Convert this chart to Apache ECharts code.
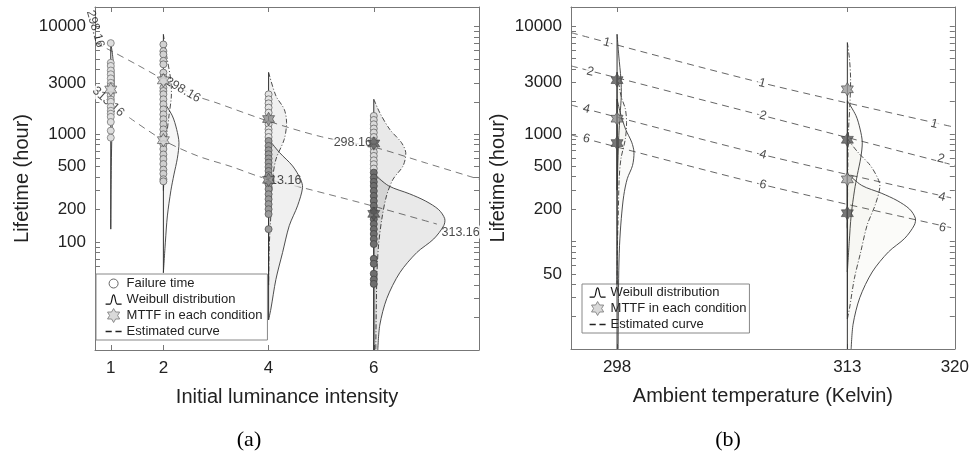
<!DOCTYPE html>
<html><head><meta charset="utf-8">
<script src="https://cdn.jsdelivr.net/npm/echarts@6/dist/echarts.min.js"></script>
<style>html,body{margin:0;padding:0;background:#fff}#c{width:972px;height:459px}</style>
</head><body><div id="c"></div>
<script>
// ---------------- DATA ----------------
const intensityLevels = [1, 2, 4, 6];
const tempLevels = [298, 313];
const xTicksA = [1, 2, 4, 6];
const xTicksB = [298, 313, 320];
const yTickLabelsA = [100, 200, 500, 1000, 3000, 10000];
const yTickLabelsB = [50, 200, 500, 1000, 3000, 10000];
const yMinorTicks = [10,20,30,40,50,60,70,80,90,100,200,300,400,500,600,700,800,900,1000,2000,3000,4000,5000,6000,7000,8000,9000,10000];

// failure times (hours)
const fail_I1_T313 = [7000, 4600, 4300, 3900, 3600, 3300, 3000, 2800, 2600, 2300, 2100, 2000, 1800, 1650, 1550, 1450, 1300, 1080, 930];
const fail_I2_T298 = [6800, 5900, 5500, 4800, 4450, 3730, 3350, 3100, 2700, 2520, 2350, 2110, 1900, 1700, 1530];
const fail_I2_T313 = [1380, 1240, 1110, 1000, 900, 810, 730, 650, 590, 530, 470, 430, 383, 366];
const fail_I4_T298 = [2345, 2110, 1936, 1766, 1588, 1238, 1113, 1038, 944];
const fail_I4_T313 = [867, 780, 711, 653, 596, 547, 498, 457, 417, 344, 310, 278, 250, 225, 202, 182, 132];
const fail_I6_T298 = [1479, 1357, 1238, 1130, 1038, 944, 867, 753, 686, 630, 574, 528, 481];
const fail_I6_T313 = [441, 397, 362, 332, 298, 268, 241, 217, 195, 163, 147, 132, 119, 107, 96, 70, 63, 51, 45, 41];

// MTTF
const mttfI_T298 = [2, 4, 6];
const mttf_T298 = [3160, 1385, 822];
const mttfI_T313 = [1, 2, 4, 6];
const mttf_T313 = [2600, 882, 378, 183];

// Weibull density profiles: lifetime values and relative density
const weibI1T313_v = [7070, 5000, 3230, 1830, 1110, 500, 132];
const weibI1T313_d = [0, 2.2, 3.4, 2.6, 1.3, 0.5, 0];
const weibI2T298_v = [8440, 5310, 3230, 2265, 1480, 964, 547, 300];
const weibI2T298_d = [0, 3.3, 7.3, 8, 5.6, 3.3, 1.6, 0];
const weibI2T313_v = [2030, 1480, 1110, 837, 600, 420, 300, 175, 100, 52];
const weibI2T313_d = [0, 9, 13.3, 15.6, 14, 10.5, 7.5, 4, 2, 0];
const weibI4T298_v = [3750, 2265, 1702, 1283, 900, 588, 383, 188, 92, 40];
const weibI4T298_d = [0, 7.4, 15.7, 18, 15.7, 7.4, 4, 2.4, 0.7, 0];
const weibI4T313_v = [900, 676, 509, 383, 320, 217, 142, 80, 45, 24, 19];
const weibI4T313_d = [0, 11, 24, 32, 34, 29, 20.7, 14, 7.3, 2.3, 0];
const weibI6T298_v = [2110, 1584, 1110, 837, 676, 509, 383, 268, 163, 92, 45, 10];
const weibI6T298_d = [0, 6, 16, 27.7, 32, 29.3, 19.3, 12.7, 8, 4.7, 3, 2];
const weibI6T313_v = [430, 332, 280, 240, 200, 165, 142, 107, 80, 52, 30, 17, 10];
const weibI6T313_d = [0, 15, 36, 52, 65, 71, 70, 60, 43, 26, 13, 6, 4];

// Estimated curves, panel (a)
const estA_x298 = [0.72, 1, 1.5, 2, 2.64, 3, 4, 5, 6, 7, 8];
const estA_v298 = [7000, 5960, 4410, 3230, 2250, 1965, 1320, 950, 760, 540, 383];
const estA_x313 = [1.35, 2, 2.65, 3.3, 3.88, 4.7, 6, 7.2];
const estA_v313 = [1430, 880, 630, 500, 397, 315, 215, 147];
// Estimated curves, panel (b)
const estB_T = [295, 307.5, 320];
const estB_I1 = [8740, 2965, 1153];
const estB_I2 = [4290, 1479, 509];
const estB_I4 = [1857, 640, 250];
const estB_I6 = [980, 337, 132];

// Contour-style labels
const labA_text = ['298.16', '313.16', '298.16', '298.16', '313.16', '313.16'];
const labA_x = [0.705, 0.95, 2.37, 5.6, 4.26, 7.65];
const labA_v = [9480, 2000, 2580, 837, 375, 124];
const labA_rot = [-74, -42, -30, 0, 0, 0];
const labB_I = [1, 2, 4, 6];
const labB_leftT = [297.33, 296.25, 296, 296];
const labB_leftV = [7070, 3780, 1702, 900];
const labB_midT = [307.45, 307.5, 307.5, 307.5];
const labB_midV = [2965, 1479, 640, 337];
const labB_rightT = [318.65, 319.1, 319.16, 319.2];
const labB_rightV = [1238, 587, 259, 134];

// ---------------- CHART ----------------
const L = Math.log10;
const FONT = "'Liberation Sans', Arial, sans-serif";
const AX = '#777';
const STAR = 'path://M10,0L12.887,5L18.66,5L15.774,10L18.66,15L12.887,15L10,20L7.113,15L1.34,15L4.226,10L1.34,5L7.113,5Z';
const CIRCLE_ICON = 'path://M0,0M14,14M2.5,7A4.5,4.5 0 1 1 11.5,7A4.5,4.5 0 1 1 2.5,7Z';
const WEIB_ICON = 'path://M0,10L4,10C5.5,10 5.5,2 7,2C8.5,2 8.5,10 10,10L14,10';
const DASH_ICON = 'path://M0,6h5v1.3h-5z M8,6h5v1.3h-5z';

const kA = 1 / 52.67, kB298 = 0.53 / 15.4, kB313 = 0.96 / 15.4;

function xAxisCfg(grid, pos, min, max, ticks, name, showLabel) {
  return {
    type: 'value', gridIndex: grid, position: pos, min: min, max: max,
    name: name || '', nameLocation: 'middle', nameGap: 37,
    nameTextStyle: {fontSize: 20, color: '#222', fontFamily: FONT},
    axisLine: {show: true, onZero: false, lineStyle: {color: AX, width: 1}},
    axisTick: {show: true, inside: true, length: 5, customValues: ticks, lineStyle: {color: AX}},
    axisLabel: showLabel ? {show: true, customValues: ticks, fontSize: 17, color: '#222', margin: 10, fontFamily: FONT} : {show: false},
    splitLine: {show: false}
  };
}
function yAxisCfg(grid, pos, labels, name) {
  return {
    type: 'value', gridIndex: grid, position: pos, min: 1, max: 4.18,
    name: name || '', nameLocation: 'middle', nameGap: 63,
    nameTextStyle: {fontSize: 20, color: '#222', fontFamily: FONT},
    axisLine: {show: true, onZero: false, lineStyle: {color: AX, width: 1}},
    axisTick: {show: true, inside: true, length: 5, customValues: yMinorTicks.map(L), lineStyle: {color: AX}},
    axisLabel: labels ? {show: true, customValues: labels.map(L), formatter: v => String(Math.round(Math.pow(10, v))),
      fontSize: 17, color: '#222', margin: 9, fontFamily: FONT} : {show: false},
    splitLine: {show: false}
  };
}

function distSeries(xi, yi, items, z) {
  return {
    type: 'custom', name: 'Weibull distribution', xAxisIndex: xi, yAxisIndex: yi, z: z, silent: true, clip: true,
    data: items.map((it, i) => [it.x0, i]),
    renderItem: function (params, api) {
      const it = items[api.value(1)];
      const curve = it.v.map((v, j) => api.coord([it.x0 + it.d[j] * it.k, L(v)]));
      const top = api.coord([it.x0, L(it.v[0])]);
      const bot = api.coord([it.x0, L(it.v[it.v.length - 1])]);
      const poly = curve.slice();
      if (it.d[it.d.length - 1] !== 0) poly.push(bot);
      poly.push([top[0], bot[1] + (top[1] - bot[1]) / 3]);
      poly.push([top[0], bot[1] + 2 * (top[1] - bot[1]) / 3]);
      return {
        type: 'group',
        children: [
          {type: 'polygon', shape: {points: poly, smooth: 0.3}, style: {fill: it.fill, stroke: 'none'}},
          {type: 'polyline', shape: {points: curve, smooth: 0.3},
            style: {fill: 'none', stroke: '#3a3a3a', lineWidth: 0.9, lineDash: it.dash ? [5, 2, 1, 2] : null}},
          {type: 'line', shape: {x1: top[0], y1: top[1], x2: bot[0], y2: bot[1]}, style: {stroke: '#333', lineWidth: 1}}
        ]
      };
    }
  };
}

function failSeries(xv, arr, fill, border) {
  return {type: 'scatter', name: 'Failure time', xAxisIndex: 0, yAxisIndex: 0, z: 5, silent: true,
    symbol: 'circle', symbolSize: 7, itemStyle: {color: fill, borderColor: border, borderWidth: 0.8, opacity: 1},
    data: arr.map(v => [xv, L(v)])};
}

function estSeries(xi, yi, xs, vs, color) {
  return {type: 'line', name: 'Estimated curve', xAxisIndex: xi, yAxisIndex: yi, z: 2, silent: true,
    symbol: 'none', smooth: 0.3, lineStyle: {type: [7, 5], color: color, width: 1},
    data: xs.map((x, i) => [x, L(vs[i])])};
}

function labelSeries(xi, yi, xs, vs, texts, rots, extra) {
  return {type: 'scatter', xAxisIndex: xi, yAxisIndex: yi, z: 3, silent: true, clip: false,
    symbolSize: 1, itemStyle: {color: 'transparent'},
    label: {show: true, position: 'inside', fontSize: 12.5, color: '#1a1a1a', fontFamily: FONT,
      backgroundColor: '#fff', padding: [0, 1]},
    data: xs.map((x, i) => {
      const o = {value: [x, L(vs[i])], label: {formatter: String(texts[i]), rotate: rots[i]}};
      if (extra && extra[i]) Object.assign(o.label, extra[i]);
      return o;
    })};
}

const I = intensityLevels;
const fA2 = 'rgba(0,0,0,0.035)', fA4 = 'rgba(0,0,0,0.06)', fA6 = 'rgba(0,0,0,0.085)';
const itemsA = [
  {x0: I[0], v: weibI1T313_v, d: weibI1T313_d, k: kA, dash: false, fill: fA2},
  {x0: I[1], v: weibI2T298_v, d: weibI2T298_d, k: kA, dash: true, fill: fA2},
  {x0: I[1], v: weibI2T313_v, d: weibI2T313_d, k: kA, dash: false, fill: fA2},
  {x0: I[2], v: weibI4T298_v, d: weibI4T298_d, k: kA, dash: true, fill: fA4},
  {x0: I[2], v: weibI4T313_v, d: weibI4T313_d, k: kA, dash: false, fill: fA4},
  {x0: I[3], v: weibI6T298_v, d: weibI6T298_d, k: kA, dash: true, fill: fA6},
  {x0: I[3], v: weibI6T313_v, d: weibI6T313_d, k: kA, dash: false, fill: fA6}
];
const T = tempLevels;
const fB = 'rgba(120,120,60,0.03)';
const itemsB = [
  {x0: T[0], v: weibI2T298_v, d: weibI2T298_d, k: kB298, dash: false, fill: fB},
  {x0: T[0], v: weibI4T298_v, d: weibI4T298_d, k: kB298, dash: true, fill: fB},
  {x0: T[0], v: weibI6T298_v, d: weibI6T298_d, k: kB298, dash: false, fill: fB},
  {x0: T[1], v: weibI1T313_v, d: weibI1T313_d, k: kB313, dash: true, fill: fB},
  {x0: T[1], v: weibI2T313_v, d: weibI2T313_d, k: kB313, dash: false, fill: fB},
  {x0: T[1], v: weibI4T313_v, d: weibI4T313_d, k: kB313, dash: true, fill: fB},
  {x0: T[1], v: weibI6T313_v, d: weibI6T313_d, k: kB313, dash: false, fill: fB}
];

const starColorA = {1: '#d4d4d4', 2: '#d4d4d4', 4: '#8a8a8a', 6: '#555'};
const starColorB298 = {2: '#555', 4: '#8a8a8a', 6: '#555'};
const starColorB313 = {1: '#9a9a9a', 2: '#555', 4: '#a0a0a0', 6: '#555'};
const starsA = [];
mttfI_T298.forEach((i, j) => starsA.push({value: [i, L(mttf_T298[j])], itemStyle: {color: starColorA[i]}}));
mttfI_T313.forEach((i, j) => starsA.push({value: [i, L(mttf_T313[j])], itemStyle: {color: starColorA[i]}}));
const starsB = [];
mttfI_T298.forEach((i, j) => starsB.push({value: [T[0], L(mttf_T298[j])], itemStyle: {color: starColorB298[i]}}));
mttfI_T313.forEach((i, j) => starsB.push({value: [T[1], L(mttf_T313[j])], itemStyle: {color: starColorB313[i]}}));

function starSeries(xi, yi, data) {
  return {type: 'scatter', name: 'MTTF in each condition', xAxisIndex: xi, yAxisIndex: yi, z: 6, silent: true,
    symbol: STAR, symbolSize: [12, 13.5], itemStyle: {borderColor: '#444', borderWidth: 0.8}, data: data};
}

const legendText = {fontSize: 13, color: '#222', fontFamily: FONT};
const legItems = {
  fail: {name: 'Failure time', icon: CIRCLE_ICON, itemStyle: {color: '#fff', borderColor: '#666', borderWidth: 1}},
  weib: {name: 'Weibull distribution', icon: WEIB_ICON, itemStyle: {color: 'transparent', borderColor: '#111', borderWidth: 1.2}},
  mttf: {name: 'MTTF in each condition', icon: STAR, itemStyle: {color: '#cfcfcf', borderColor: '#777', borderWidth: 1}},
  est: {name: 'Estimated curve', icon: DASH_ICON, itemStyle: {color: '#222', borderWidth: 0}}
};

const labBx = labB_leftT.concat(labB_midT, labB_rightT);
const labBv = labB_leftV.concat(labB_midV, labB_rightV);
const labBt = labB_I.concat(labB_I, labB_I);
const labBr = labBx.map(() => -14);

const option = {
  animation: false,
  backgroundColor: '#fff',
  textStyle: {fontFamily: FONT},
  grid: [
    {left: 95, top: 7, width: 384, height: 343, containLabel: false},
    {left: 571, top: 7, width: 385, height: 342, containLabel: false}
  ],
  xAxis: [
    xAxisCfg(0, 'bottom', 0.7, 8, xTicksA, 'Initial luminance intensity', true),
    xAxisCfg(0, 'top', 0.7, 8, xTicksA, '', false),
    xAxisCfg(1, 'bottom', 295, 320, xTicksB, 'Ambient temperature (Kelvin)', true),
    xAxisCfg(1, 'top', 295, 320, xTicksB, '', false)
  ],
  yAxis: [
    yAxisCfg(0, 'left', yTickLabelsA, 'Lifetime (hour)'),
    yAxisCfg(0, 'right', null, ''),
    yAxisCfg(1, 'left', yTickLabelsB, 'Lifetime (hour)'),
    yAxisCfg(1, 'right', null, '')
  ],
  legend: [
    {left: 96, top: 274, orient: 'vertical', itemGap: 2, itemWidth: 16, itemHeight: 14, selectedMode: false,
      padding: [2, 5, 2, 9], borderColor: '#888', borderWidth: 1, backgroundColor: '#fff', textStyle: legendText,
      data: [legItems.fail, legItems.weib, legItems.mttf, legItems.est]},
    {left: 582, top: 284, orient: 'vertical', itemGap: 2, itemWidth: 16, itemHeight: 14, selectedMode: false,
      padding: [2, 3, 2, 7], borderColor: '#888', borderWidth: 1, backgroundColor: '#fff', textStyle: legendText,
      data: [legItems.weib, legItems.mttf, legItems.est]}
  ],
  graphic: [
    {type: 'text', x: 249, y: 440, style: {text: '(a)', font: "22px 'Liberation Serif', 'Times New Roman', serif", fill: '#000', textAlign: 'center', textVerticalAlign: 'middle'}},
    {type: 'text', x: 728, y: 440, style: {text: '(b)', font: "22px 'Liberation Serif', 'Times New Roman', serif", fill: '#000', textAlign: 'center', textVerticalAlign: 'middle'}}
  ],
  series: [
    estSeries(0, 0, estA_x298, estA_v298, '#7a7a7a'),
    estSeries(0, 0, estA_x313, estA_v313, '#7a7a7a'),
    estSeries(2, 2, estB_T, estB_I1, '#666'),
    estSeries(2, 2, estB_T, estB_I2, '#666'),
    estSeries(2, 2, estB_T, estB_I4, '#666'),
    estSeries(2, 2, estB_T, estB_I6, '#666'),
    labelSeries(0, 0, labA_x, labA_v, labA_text, labA_rot, [{backgroundColor: 'transparent'}]),
    labelSeries(2, 2, labBx, labBv, labBt, labBr),
    distSeries(0, 0, itemsA, 4),
    distSeries(2, 2, itemsB, 4),
    failSeries(I[0], fail_I1_T313, '#dedede', '#777'),
    failSeries(I[1], fail_I2_T298, '#d2d2d2', '#666'),
    failSeries(I[1], fail_I2_T313, '#cfcfcf', '#666'),
    failSeries(I[2], fail_I4_T298, '#e4e4e4', '#666'),
    failSeries(I[2], fail_I4_T313, '#9a9a9a', '#555'),
    failSeries(I[3], fail_I6_T298, '#dadada', '#666'),
    failSeries(I[3], fail_I6_T313, '#6e6e6e', '#444'),
    starSeries(0, 0, starsA),
    starSeries(2, 2, starsB)
  ]
};

const chart = echarts.init(document.getElementById('c'), null, {renderer: 'canvas'});
chart.setOption(option);
</script></body></html>
